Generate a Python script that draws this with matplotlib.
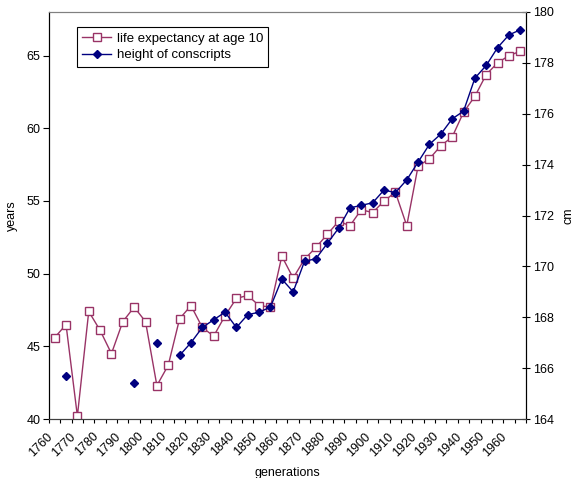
import matplotlib.pyplot as plt
import matplotlib.transforms as mtransforms
import numpy as np

plt.rcParams['font.family'] = ['Liberation Sans', 'DejaVu Sans']
plt.rcParams['font.size'] = 9

# categories: generations (5-year steps)
years = [1760, 1765, 1770, 1775, 1780, 1785, 1790, 1795, 1800, 1805,
         1810, 1815, 1820, 1825, 1830, 1835, 1840, 1845, 1850, 1855,
         1860, 1865, 1870, 1875, 1880, 1885, 1890, 1895, 1900, 1905,
         1910, 1915, 1920, 1925, 1930, 1935, 1940, 1945, 1950, 1955,
         1960, 1965]

# life expectancy at age 10 (years)
life_exp = [45.6, 46.5, 40.2, 47.4, 46.1, 44.5, 46.7, 47.7, 46.7, 42.3,
            43.7, 46.9, 47.8, 46.3, 45.7, 47.1, 48.3, 48.5, 47.8, 47.7,
            51.2, 49.7, 51.0, 51.8, 52.7, 53.6, 53.3, 54.4, 54.2, 55.0,
            55.6, 53.3, 57.4, 57.9, 58.8, 59.4, 61.1, 62.2, 63.7, 64.5,
            65.0, 65.3]

# height of conscripts (cm), nan = no data
height = [np.nan, 165.7, np.nan, np.nan, np.nan, np.nan, np.nan, 165.4, np.nan, 167.0,
          np.nan, 166.5, 167.0, 167.6, 167.9, 168.2, 167.6, 168.1, 168.2, 168.4,
          169.5, 169.0, 170.2, 170.3, 170.9, 171.5, 172.3, 172.4, 172.5, 173.0,
          172.9, 173.4, 174.1, 174.8, 175.2, 175.8, 176.1, 177.4, 177.9, 178.6,
          179.1, 179.3]

x = np.arange(len(years))

fig = plt.figure(figsize=(5.77, 4.78), dpi=100)
ax = fig.add_axes([0.0849, 0.1234, 0.8267, 0.8515])
ax2 = ax.twinx()

l1, = ax.plot(x, life_exp, color='#993366', lw=1.0, marker='s', markersize=6,
              markerfacecolor='white', markeredgecolor='#993366', markeredgewidth=1.0,
              label='life expectancy at age 10')
l2, = ax2.plot(x, height, color='#000080', lw=1.0, marker='D', markersize=4.5,
               markerfacecolor='#000080', markeredgecolor='#000080',
               label='height of conscripts')

ax.set_xlim(-0.5, len(years) - 0.5)
ax.set_ylim(40, 68)
ax2.set_ylim(164, 180)
ax.set_yticks([40, 45, 50, 55, 60, 65])
ax2.set_yticks(np.arange(164, 181, 2))

# labels every other category, tick marks between categories
ax.set_xticks(x[::2])
ax.set_xticklabels([str(y) for y in years[::2]], rotation=45, ha='right',
                   rotation_mode='anchor')
ax.set_xticks(np.arange(-0.5, len(years), 1), minor=True)
ax.tick_params(axis='x', which='major', length=0, pad=6)
ax.tick_params(axis='x', which='minor', length=3, width=0.8, direction='out')
ax.tick_params(axis='y', length=4, width=0.8, direction='out', pad=2)
ax2.tick_params(axis='y', length=6, width=0.8, direction='inout', pad=2)

# nudge rotated labels so their ends sit like Excel's
shift = mtransforms.ScaledTranslation(-8 / 100, -3 / 100, fig.dpi_scale_trans)
for lab in ax.get_xticklabels():
    lab.set_transform(lab.get_transform() + shift)

ax.set_xlabel('generations', labelpad=6)
ax.set_ylabel('years', labelpad=6)
ax2.set_ylabel('cm', labelpad=6)

for a in (ax, ax2):
    a.spines['top'].set_color('#808080')
    a.spines['bottom'].set_color('#404040')
    a.spines['left'].set_color('black')
    a.spines['right'].set_color('black')

leg = ax2.legend(handles=[l1, l2], loc='upper left', bbox_to_anchor=(0.059, 0.963),
                 frameon=True, fancybox=False, edgecolor='black', framealpha=1,
                 fontsize=9.5, handlelength=2.2, borderpad=0.4, labelspacing=0.35,
                 handletextpad=0.4, borderaxespad=0)
leg.get_frame().set_linewidth(0.8)

fig.savefig('out.png', dpi=100)
